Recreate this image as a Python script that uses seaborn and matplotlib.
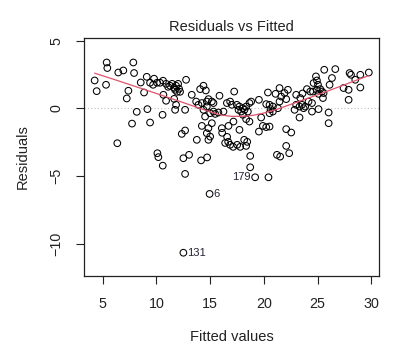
import matplotlib
matplotlib.use('Agg')

import matplotlib.pyplot as plt
import seaborn as sns
import numpy as np
import pandas as pd

# fitted values / residuals
fitted = [
    4.25, 4.44, 5.37, 5.43, 5.31, 6.45, 6.92, 7.85, 7.92, 7.39, 7.24, 8.17, 7.73, 6.36,
    9.16, 9.41, 9.10, 8.54, 8.85,
    9.41, 9.69, 9.78, 10.06, 10.34, 10.62, 10.90, 11.09, 11.27, 11.46, 11.65, 11.83,
    11.74, 11.92, 12.11, 12.20, 12.02,
    12.76, 10.65, 10.90, 11.65, 11.83, 11.74, 12.67, 10.57, 10.09, 10.18, 10.59, 12.51,
    13.04, 14.16, 14.72, 12.67, 14.95, 12.51, 12.36, 12.67, 13.76,
    14.38, 14.07, 14.60, 13.29, 15.87, 17.24, 13.70, 13.91, 14.23, 14.69, 14.84, 15.16,
    15.31, 14.69, 14.38, 14.53, 15.00, 15.31, 15.47, 15.77, 16.24, 16.56, 16.86, 17.02,
    17.49, 17.64, 14.23, 14.84, 15.16, 14.69, 15.00, 14.84, 16.09, 16.71, 17.17,
    16.12, 16.58, 16.68, 16.40, 16.86, 17.14, 17.52, 17.80, 18.17, 18.45, 18.35, 17.73,
    18.73, 18.73, 19.19, 20.43, 21.22, 21.52, 22.36,
    17.73, 18.05, 18.20, 18.35, 18.66, 18.82, 18.51, 17.89, 18.05, 19.54, 20.38, 20.22,
    20.53, 20.84, 20.62, 21.46, 21.09, 21.62, 21.92, 22.24, 22.08, 21.46, 21.31, 20.84,
    20.53, 19.75, 18.35, 18.66, 19.91, 20.22, 20.53, 19.54, 22.08, 22.55, 22.08, 23.01,
    23.01, 22.86, 23.32, 23.32,
    25.62, 26.65, 24.85, 24.94, 24.63, 25.04, 26.34, 26.12, 27.98, 28.11, 28.51, 28.98,
    29.77, 28.98, 27.89, 27.42, 27.89, 24.01, 24.32, 24.57, 24.94, 25.25, 25.41, 25.09,
    25.56, 25.50, 23.39, 23.55, 23.85, 24.16, 24.48, 23.70, 24.48, 25.09, 26.03, 26.03,
    23.60,
]
residuals = [
    2.06, 1.27, 3.39, 2.98, 1.74, 2.65, 2.80, 3.39, 2.61, 1.30, 0.73, -0.26, -1.13, -2.58,
    -0.06, -1.05, 2.33, 1.91, 1.17,
    1.89, 1.74, 2.19, 1.89, 1.89, 2.04, 1.81, 1.59, 1.67, 1.81, 1.52, 1.67,
    1.37, 1.22, 1.44, 1.22, 1.81,
    2.11, 1.00, 0.56, 0.70, 0.26, -0.11, -0.11, -0.48, -3.32, -3.61, -4.24, -3.69,
    -3.44, -3.85, -3.63, -4.85, -6.33, -10.68, -1.89, -1.64, -2.33,
    1.67, 1.42, 1.32, 1.00, 0.93, 1.24, 0.50, 0.26, 0.39, 0.50, 0.68, 0.50,
    0.39, 0.13, -0.11, -0.61, -0.36, -0.24, -0.41, -0.31, -0.24, 0.39, 0.50, 0.26,
    0.26, -0.11, -1.30, -1.47, -1.10, -1.84, -2.09, -2.33, -1.47, -1.30, -0.98,
    -1.81, -2.11, -2.48, -2.56, -2.70, -2.85, -2.70, -2.85, -2.33, -2.48, -2.78, -1.59,
    -3.52, -4.36, -5.10, -5.10, -3.44, -3.57, -3.32,
    0.13, 0.01, -0.11, 0.13, 0.39, 0.50, -0.24, -0.24, -0.48, 0.63, 1.17, 0.31,
    0.26, 0.13, -0.06, 1.50, 1.07, 0.87, 1.13, 1.37, 0.68, 0.50, 0.01, -0.24,
    -0.36, -0.68, -0.80, -0.98, -1.30, -1.39, -1.35, -1.72, -1.54, -1.79, -2.78, 1.00,
    0.26, -0.11, 0.13, -0.68,
    2.85, 2.90, 2.36, 2.06, 1.87, 1.74, 2.24, 1.74, 2.61, 2.48, 2.11, 2.48,
    2.65, 1.54, 1.37, 1.50, 0.63, 1.42, 1.24, 1.24, 1.37, 1.42, 1.24, 1.07,
    1.13, 0.76, 0.76, 0.26, 0.13, 0.50, 0.39, 0.01, -0.24, -0.06, -0.31, -1.10,
    1.10,
]

# labelled observations (index, fitted, residual)
outlier_ids = ['6', '131', '179']
outlier_x = [14.95, 12.51, 19.19]
outlier_y = [-6.33, -10.68, -5.10]


def lowess(x, y, f=2 / 3, iters=3):
    """简单 lowess 平滑 (同 R 的 lowess 默认参数)"""
    order = np.argsort(x)
    x = np.asarray(x, float)[order]
    y = np.asarray(y, float)[order]
    n = len(x)
    r = int(np.ceil(f * n))
    delta = np.ones(n)
    yest = np.zeros(n)
    for _ in range(iters + 1):
        for i in range(n):
            d = np.abs(x - x[i])
            h = np.sort(d)[r - 1]
            w = np.clip(d / h, 0, 1)
            w = (1 - w ** 3) ** 3 * delta
            sw = w.sum()
            xm = (w * x).sum() / sw
            ym = (w * y).sum() / sw
            sxx = (w * (x - xm) ** 2).sum()
            b = (w * (x - xm) * (y - ym)).sum() / sxx if sxx > 0 else 0.0
            yest[i] = ym + b * (x[i] - xm)
        res = y - yest
        s = np.median(np.abs(res))
        u = np.clip(res / (6 * s), -1, 1)
        delta = (1 - u ** 2) ** 2
    return x, yest


sns.set_style('ticks')
plt.rcParams['font.family'] = ['Liberation Sans', 'DejaVu Sans']

df = pd.DataFrame({'fitted': fitted, 'residuals': residuals})
sx, sy = lowess(df['fitted'].values, df['residuals'].values)
smooth = pd.DataFrame({'fitted': sx, 'residuals': sy})

fig = plt.figure(figsize=(3.97, 3.63), dpi=100)
ax = fig.add_axes([0.2116, 0.2397, 0.7431, 0.6556])

ax.axhline(0, color='#bebebe', linestyle=(0, (1, 2)), linewidth=0.8, zorder=1)
sns.scatterplot(data=df, x='fitted', y='residuals', ax=ax, marker='o', s=23,
                facecolor='none', edgecolor='black', linewidth=0.75, zorder=2)
sns.lineplot(data=smooth, x='fitted', y='residuals', ax=ax, color='#DF536B',
             linewidth=0.9, estimator=None, zorder=3)

for lab, x, y in zip(outlier_ids, outlier_x, outlier_y):
    if lab == '179':
        ax.text(x - 0.4, y, lab, ha='right', va='center', fontsize=8, color='#222233')
    else:
        ax.text(x + 0.35, y, lab, ha='left', va='center', fontsize=8, color='#222233')

ax.set_xlim(3.26, 30.72)
ax.set_ylim(-12.4, 5.2)
ax.set_xticks([5, 10, 15, 20, 25, 30])
ax.set_yticks([-10, -5, 0, 5])
ax.tick_params(axis='x', length=6, width=0.8, pad=9, labelsize=10.3, colors='#222222')
ax.tick_params(axis='y', length=6, width=0.8, pad=9, labelsize=10.3, colors='#222222')
for t in ax.get_yticklabels():
    t.set_rotation(90)
    t.set_va('center')
for sp in ax.spines.values():
    sp.set_visible(True)
    sp.set_linewidth(0.9)
    sp.set_color('#222222')

ax.set_xlabel('Fitted values', fontsize=10.5, labelpad=14, color='#222222')
ax.set_ylabel('Residuals', fontsize=10.5, labelpad=14, color='#222222')
ax.set_title('Residuals vs Fitted', fontsize=10.5, pad=5, color='#222222')

fig.savefig('out.png', dpi=100)
